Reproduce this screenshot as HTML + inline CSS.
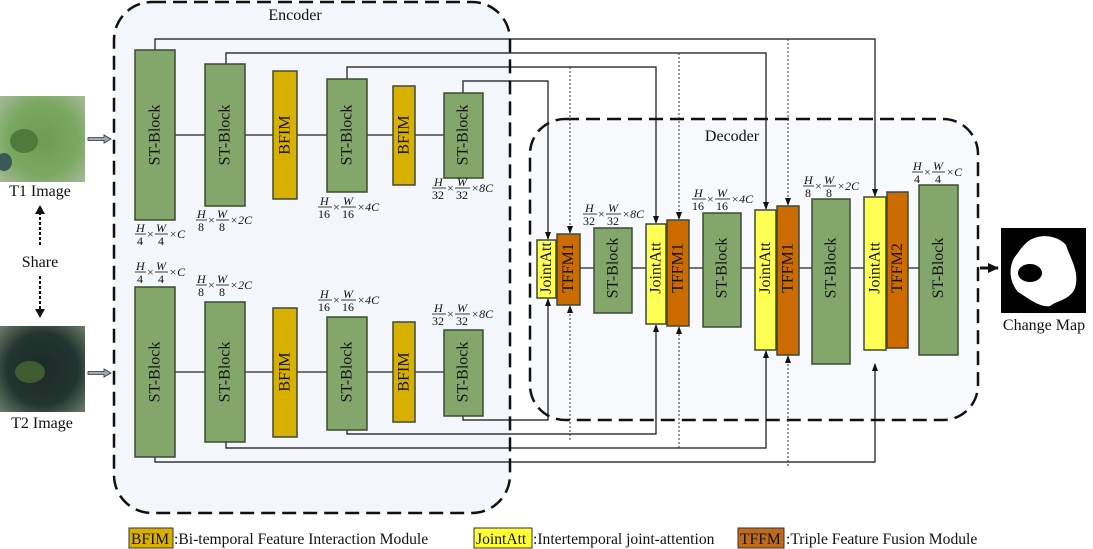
<!DOCTYPE html>
<html><head><meta charset="utf-8"><style>
html,body{margin:0;padding:0;background:#fff;font-family:"Liberation Serif","Times New Roman",serif}
svg{display:block}
text{font-family:"Liberation Serif","Times New Roman",serif;fill:#111}
.lbl{font-size:16px}
.lg{font-size:15.6px}
.fr{font-size:12px}
.fi{font-size:12px;font-style:italic}
</style></head><body>
<svg width="1093" height="549" viewBox="0 0 1093 549" xmlns="http://www.w3.org/2000/svg">
<defs>
<marker id="a" markerWidth="8" markerHeight="8" refX="7" refY="4" orient="auto" markerUnits="userSpaceOnUse"><path d="M0,1 L8,4 L0,7 Z" fill="#111"/></marker>
<marker id="b" markerWidth="12" markerHeight="12" refX="10" refY="6" orient="auto" markerUnits="userSpaceOnUse"><path d="M0,1 L11,6 L0,11 Z" fill="#111"/></marker>
<radialGradient id="g1" cx="0.5" cy="0.5" r="0.7"><stop offset="0" stop-color="#6f9a55"/><stop offset="0.6" stop-color="#7aa862"/><stop offset="1" stop-color="#a9b899"/></radialGradient>
<radialGradient id="g2" cx="0.5" cy="0.5" r="0.7"><stop offset="0" stop-color="#1c2a26"/><stop offset="0.6" stop-color="#233530"/><stop offset="1" stop-color="#6a7a6a"/></radialGradient>
</defs>

<rect x="114" y="2" width="396" height="511" rx="38" fill="#f3f6fb" stroke="#111" stroke-width="2.5" stroke-dasharray="14,7"/>
<text x="295" y="20" class="lbl" text-anchor="middle">Encoder</text>
<rect x="530" y="119" width="448" height="301" rx="35" fill="#f3f6fb" fill-opacity="0.7" stroke="#111" stroke-width="2.5" stroke-dasharray="14,7"/>
<text x="732" y="141" class="lbl" text-anchor="middle">Decoder</text>

<rect x="0" y="96" width="85" height="86" fill="url(#g1)"/>
<ellipse cx="24" cy="141" rx="14" ry="12" fill="#4f7a3c"/>
<ellipse cx="4" cy="162" rx="8" ry="9" fill="#3a5a58"/>
<text x="40" y="196" class="lbl" text-anchor="middle">T1 Image</text>
<rect x="0" y="326" width="85" height="86" fill="url(#g2)"/>
<ellipse cx="30" cy="372" rx="15" ry="11" fill="#3f5c30"/>
<text x="42" y="428" class="lbl" text-anchor="middle">T2 Image</text>
<line x1="40" y1="212" x2="40" y2="246" stroke="#111" stroke-width="2" stroke-dasharray="3,2"/>
<path d="M35,214 L40,205 L45,214 Z" fill="#111"/>
<text x="40" y="267" class="lbl" text-anchor="middle">Share</text>
<line x1="40" y1="276" x2="40" y2="310" stroke="#111" stroke-width="2" stroke-dasharray="3,2"/>
<path d="M35,309 L40,318 L45,309 Z" fill="#111"/>
<path d="M88,137.5 L104,137.5 L104,135 L111,139 L104,143 L104,140.5 L88,140.5 Z" fill="#9ab" stroke="#333" stroke-width="0.8"/>
<path d="M88,371.5 L104,371.5 L104,369 L111,373 L104,377 L104,374.5 L88,374.5 Z" fill="#9ab" stroke="#333" stroke-width="0.8"/>

<g fill="none" stroke="#111" stroke-width="1.2">
<polyline points="155,50 155,39 875,39 875,196" marker-end="url(#a)"/>
<polyline points="226,64 226,53 766,53 766,209" marker-end="url(#a)"/>
<polyline points="347,79 347,67 656,67 656,223" marker-end="url(#a)"/>
<polyline points="463,93 463,81 548,81 548,239" marker-end="url(#a)"/>
<polyline points="155,457 155,462 875,462 875,364" marker-end="url(#a)"/>
<polyline points="226,442 226,448 766,448 766,351" marker-end="url(#a)"/>
<polyline points="347,430 347,434 656,434 656,325" marker-end="url(#a)"/>
<polyline points="463,416 463,420 548,420 548,299" marker-end="url(#a)"/>
</g>
<g fill="none" stroke="#333" stroke-width="1" stroke-dasharray="2,2">
<line x1="570" y1="67" x2="570" y2="233" marker-end="url(#a)"/>
<line x1="570" y1="440" x2="570" y2="306" marker-end="url(#a)"/>
<line x1="679" y1="53" x2="679" y2="219" marker-end="url(#a)"/>
<line x1="679" y1="448" x2="679" y2="327" marker-end="url(#a)"/>
<line x1="788" y1="39" x2="788" y2="205" marker-end="url(#a)"/>
<line x1="788" y1="466" x2="788" y2="356" marker-end="url(#a)"/>
</g>

<line x1="175" y1="135" x2="444" y2="135" stroke="#222" stroke-width="1.2"/>
<line x1="175" y1="372" x2="444" y2="372" stroke="#222" stroke-width="1.2"/>
<line x1="556" y1="268" x2="919" y2="268" stroke="#222" stroke-width="1.2"/>

<g stroke="#3d4a33" stroke-width="1.5">
<rect x="135" y="50" width="40" height="170" fill="#83a76b"/>
<rect x="205" y="64" width="40" height="142" fill="#83a76b"/>
<rect x="273" y="71" width="24" height="128" fill="#d8b000"/>
<rect x="327" y="79" width="40" height="113" fill="#83a76b"/>
<rect x="393" y="86" width="22" height="99" fill="#d8b000"/>
<rect x="444" y="93" width="39" height="85" fill="#83a76b"/>
<rect x="135" y="287" width="40" height="170" fill="#83a76b"/>
<rect x="205" y="302" width="40" height="140" fill="#83a76b"/>
<rect x="273" y="308" width="24" height="129" fill="#d8b000"/>
<rect x="327" y="317" width="40" height="113" fill="#83a76b"/>
<rect x="393" y="322" width="22" height="100" fill="#d8b000"/>
<rect x="444" y="330" width="39" height="86" fill="#83a76b"/>
<rect x="537" y="240" width="19" height="58" fill="#ffff55"/>
<rect x="557" y="234" width="23" height="71" fill="#cc6c00"/>
<rect x="594" y="228" width="38" height="85" fill="#83a76b"/>
<rect x="646" y="224" width="20" height="100" fill="#ffff55"/>
<rect x="667" y="220" width="22" height="106" fill="#cc6c00"/>
<rect x="703" y="213" width="38" height="114" fill="#83a76b"/>
<rect x="755" y="210" width="21" height="140" fill="#ffff55"/>
<rect x="777" y="206" width="22" height="149" fill="#cc6c00"/>
<rect x="812" y="199" width="38" height="165" fill="#83a76b"/>
<rect x="864" y="197" width="22" height="153" fill="#ffff55"/>
<rect x="887" y="192" width="21" height="156" fill="#cc6c00"/>
<rect x="919" y="185" width="39" height="170" fill="#83a76b"/>
</g>

<g class="lbl" text-anchor="middle" dominant-baseline="central">
<text transform="translate(155,135) rotate(-90)">ST-Block</text>
<text transform="translate(225,135) rotate(-90)">ST-Block</text>
<text transform="translate(285,135) rotate(-90)">BFIM</text>
<text transform="translate(347,135) rotate(-90)">ST-Block</text>
<text transform="translate(404,135) rotate(-90)">BFIM</text>
<text transform="translate(463,135) rotate(-90)">ST-Block</text>
<text transform="translate(155,372) rotate(-90)">ST-Block</text>
<text transform="translate(225,372) rotate(-90)">ST-Block</text>
<text transform="translate(285,372) rotate(-90)">BFIM</text>
<text transform="translate(347,372) rotate(-90)">ST-Block</text>
<text transform="translate(404,372) rotate(-90)">BFIM</text>
<text transform="translate(463,372) rotate(-90)">ST-Block</text>
<text transform="translate(546.5,268) rotate(-90)">JointAtt</text>
<text transform="translate(568.5,268) rotate(-90)">TFFM1</text>
<text transform="translate(613,268) rotate(-90)">ST-Block</text>
<text transform="translate(656,268) rotate(-90)">JointAtt</text>
<text transform="translate(678,268) rotate(-90)">TFFM1</text>
<text transform="translate(722,268) rotate(-90)">ST-Block</text>
<text transform="translate(765.5,268) rotate(-90)">JointAtt</text>
<text transform="translate(788,268) rotate(-90)">TFFM1</text>
<text transform="translate(831,268) rotate(-90)">ST-Block</text>
<text transform="translate(875,268) rotate(-90)">JointAtt</text>
<text transform="translate(897.5,268) rotate(-90)">TFFM2</text>
<text transform="translate(938.5,268) rotate(-90)">ST-Block</text>
</g>

<g transform="translate(135,234)">
<text class="fi" x="1" y="-2">H</text><line x1="0" y1="0" x2="11" y2="0" stroke="#111" stroke-width="0.8"/><text class="fr" x="2" y="11">4</text>
<text class="fr" x="12" y="4">×</text>
<text class="fi" x="21" y="-2">W</text><line x1="20" y1="0" x2="33" y2="0" stroke="#111" stroke-width="0.8"/><text class="fr" x="23" y="11">4</text>
<text class="fi" x="34" y="4">×C</text></g>
<g transform="translate(196,220)">
<text class="fi" x="1" y="-2">H</text><line x1="0" y1="0" x2="11" y2="0" stroke="#111" stroke-width="0.8"/><text class="fr" x="2" y="11">8</text>
<text class="fr" x="12" y="4">×</text>
<text class="fi" x="21" y="-2">W</text><line x1="20" y1="0" x2="33" y2="0" stroke="#111" stroke-width="0.8"/><text class="fr" x="23" y="11">8</text>
<text class="fi" x="34" y="4">×2C</text></g>
<g transform="translate(318,207)">
<text class="fi" x="2" y="-2">H</text><line x1="0" y1="0" x2="14" y2="0" stroke="#111" stroke-width="0.8"/><text class="fr" x="0" y="11">16</text>
<text class="fr" x="15" y="4">×</text>
<text class="fi" x="25" y="-2">W</text><line x1="23" y1="0" x2="38" y2="0" stroke="#111" stroke-width="0.8"/><text class="fr" x="24" y="11">16</text>
<text class="fi" x="39" y="4">×4C</text></g>
<g transform="translate(432,188)">
<text class="fi" x="2" y="-2">H</text><line x1="0" y1="0" x2="14" y2="0" stroke="#111" stroke-width="0.8"/><text class="fr" x="0" y="11">32</text>
<text class="fr" x="15" y="4">×</text>
<text class="fi" x="25" y="-2">W</text><line x1="23" y1="0" x2="38" y2="0" stroke="#111" stroke-width="0.8"/><text class="fr" x="24" y="11">32</text>
<text class="fi" x="39" y="4">×8C</text></g>

<g transform="translate(135,272)">
<text class="fi" x="1" y="-2">H</text><line x1="0" y1="0" x2="11" y2="0" stroke="#111" stroke-width="0.8"/><text class="fr" x="2" y="11">4</text>
<text class="fr" x="12" y="4">×</text>
<text class="fi" x="21" y="-2">W</text><line x1="20" y1="0" x2="33" y2="0" stroke="#111" stroke-width="0.8"/><text class="fr" x="23" y="11">4</text>
<text class="fi" x="34" y="4">×C</text></g>
<g transform="translate(196,285)">
<text class="fi" x="1" y="-2">H</text><line x1="0" y1="0" x2="11" y2="0" stroke="#111" stroke-width="0.8"/><text class="fr" x="2" y="11">8</text>
<text class="fr" x="12" y="4">×</text>
<text class="fi" x="21" y="-2">W</text><line x1="20" y1="0" x2="33" y2="0" stroke="#111" stroke-width="0.8"/><text class="fr" x="23" y="11">8</text>
<text class="fi" x="34" y="4">×2C</text></g>
<g transform="translate(318,300)">
<text class="fi" x="2" y="-2">H</text><line x1="0" y1="0" x2="14" y2="0" stroke="#111" stroke-width="0.8"/><text class="fr" x="0" y="11">16</text>
<text class="fr" x="15" y="4">×</text>
<text class="fi" x="25" y="-2">W</text><line x1="23" y1="0" x2="38" y2="0" stroke="#111" stroke-width="0.8"/><text class="fr" x="24" y="11">16</text>
<text class="fi" x="39" y="4">×4C</text></g>
<g transform="translate(432,314)">
<text class="fi" x="2" y="-2">H</text><line x1="0" y1="0" x2="14" y2="0" stroke="#111" stroke-width="0.8"/><text class="fr" x="0" y="11">32</text>
<text class="fr" x="15" y="4">×</text>
<text class="fi" x="25" y="-2">W</text><line x1="23" y1="0" x2="38" y2="0" stroke="#111" stroke-width="0.8"/><text class="fr" x="24" y="11">32</text>
<text class="fi" x="39" y="4">×8C</text></g>

<g transform="translate(583,214)">
<text class="fi" x="2" y="-2">H</text><line x1="0" y1="0" x2="14" y2="0" stroke="#111" stroke-width="0.8"/><text class="fr" x="0" y="11">32</text>
<text class="fr" x="15" y="4">×</text>
<text class="fi" x="25" y="-2">W</text><line x1="23" y1="0" x2="38" y2="0" stroke="#111" stroke-width="0.8"/><text class="fr" x="24" y="11">32</text>
<text class="fi" x="39" y="4">×8C</text></g>
<g transform="translate(692,199)">
<text class="fi" x="2" y="-2">H</text><line x1="0" y1="0" x2="14" y2="0" stroke="#111" stroke-width="0.8"/><text class="fr" x="0" y="11">16</text>
<text class="fr" x="15" y="4">×</text>
<text class="fi" x="25" y="-2">W</text><line x1="23" y1="0" x2="38" y2="0" stroke="#111" stroke-width="0.8"/><text class="fr" x="24" y="11">16</text>
<text class="fi" x="39" y="4">×4C</text></g>
<g transform="translate(803,186)">
<text class="fi" x="1" y="-2">H</text><line x1="0" y1="0" x2="11" y2="0" stroke="#111" stroke-width="0.8"/><text class="fr" x="2" y="11">8</text>
<text class="fr" x="12" y="4">×</text>
<text class="fi" x="21" y="-2">W</text><line x1="20" y1="0" x2="33" y2="0" stroke="#111" stroke-width="0.8"/><text class="fr" x="23" y="11">8</text>
<text class="fi" x="34" y="4">×2C</text></g>
<g transform="translate(912,172)">
<text class="fi" x="1" y="-2">H</text><line x1="0" y1="0" x2="11" y2="0" stroke="#111" stroke-width="0.8"/><text class="fr" x="2" y="11">4</text>
<text class="fr" x="12" y="4">×</text>
<text class="fi" x="21" y="-2">W</text><line x1="20" y1="0" x2="33" y2="0" stroke="#111" stroke-width="0.8"/><text class="fr" x="23" y="11">4</text>
<text class="fi" x="34" y="4">×C</text></g>

<line x1="980" y1="268" x2="998" y2="268" stroke="#111" stroke-width="3" marker-end="url(#b)"/>
<rect x="1001" y="228" width="85" height="85" fill="#000"/>
<path d="M1030,240 C1045,232 1060,238 1066,245 C1070,258 1080,272 1075,288 C1070,300 1058,300 1050,306 C1040,308 1028,298 1018,292 C1010,282 1008,270 1014,258 C1020,250 1024,244 1030,240 Z" fill="#fff"/>
<ellipse cx="1030" cy="273" rx="12" ry="9" fill="#000"/>
<text x="1044" y="330" class="lbl" text-anchor="middle">Change Map</text>

<rect x="129" y="528" width="44" height="20" fill="#d8b000" stroke="#333" stroke-width="1"/>
<text x="131" y="544" class="lg">BFIM</text>
<text x="174" y="544" class="lg">:Bi-temporal Feature Interaction Module</text>
<rect x="474" y="528" width="58" height="20" fill="#ffff33" stroke="#333" stroke-width="1"/>
<text x="476" y="544" class="lg">JointAtt</text>
<text x="533" y="544" class="lg">:Intertemporal joint-attention</text>
<rect x="738" y="528" width="46" height="20" fill="#c06a1a" stroke="#333" stroke-width="1"/>
<text x="740" y="544" class="lg">TFFM</text>
<text x="786" y="544" class="lg">:Triple Feature Fusion Module</text>
</svg>
</body></html>
